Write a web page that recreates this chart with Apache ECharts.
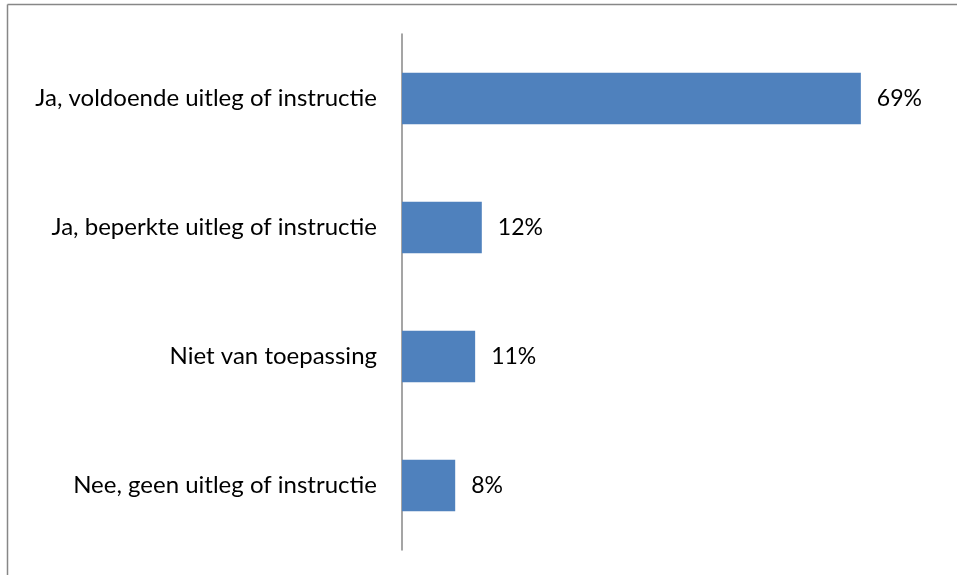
<!DOCTYPE html>
<html>
<head>
<meta charset="utf-8">
<script src="https://cdn.jsdelivr.net/npm/echarts@6/dist/echarts.min.js"></script>
<style>
  html, body { margin: 0; padding: 0; background: #fff; }
  #chart { width: 957px; height: 575px; }
</style>
</head>
<body>
<div id="chart"></div>
<script>
// Answer categories, top to bottom
const categories = [
  'Ja, voldoende uitleg of instructie',
  'Ja, beperkte uitleg of instructie',
  'Niet van toepassing',
  'Nee, geen uitleg of instructie'
];
// Share of respondents (%)
const values = [69, 12, 11, 8];

const FONT = 'Lato, "Open Sans", sans-serif';
const chart = echarts.init(document.getElementById('chart'), null, { renderer: 'canvas' });

chart.setOption({
  backgroundColor: '#ffffff',
  animation: false,
  graphic: [
    { type: 'line', shape: { x1: 7.5, y1: 4.5, x2: 957, y2: 4.5 }, style: { stroke: '#878787', lineWidth: 1.5 } },
    { type: 'line', shape: { x1: 7.5, y1: 4.5, x2: 7.5, y2: 575 }, style: { stroke: '#878787', lineWidth: 1.5 } }
  ],
  grid: { left: 402, right: 23, top: 34, bottom: 25, containLabel: false },
  xAxis: {
    type: 'value',
    min: 0,
    max: 80,
    show: false
  },
  yAxis: {
    type: 'category',
    data: categories,
    inverse: true,
    axisLine: { show: true, lineStyle: { color: '#878787', width: 1.5 } },
    axisTick: { show: false },
    axisLabel: { color: '#000', fontFamily: FONT, fontSize: 24, margin: 25 }
  },
  series: [{
    type: 'bar',
    data: values,
    barCategoryGap: '60%',
    itemStyle: { color: '#4f81bd' },
    label: {
      show: true,
      position: 'right',
      distance: 16,
      formatter: '{c}%',
      color: '#000',
      fontFamily: FONT,
      fontSize: 23
    }
  }]
});
</script>
</body>
</html>
